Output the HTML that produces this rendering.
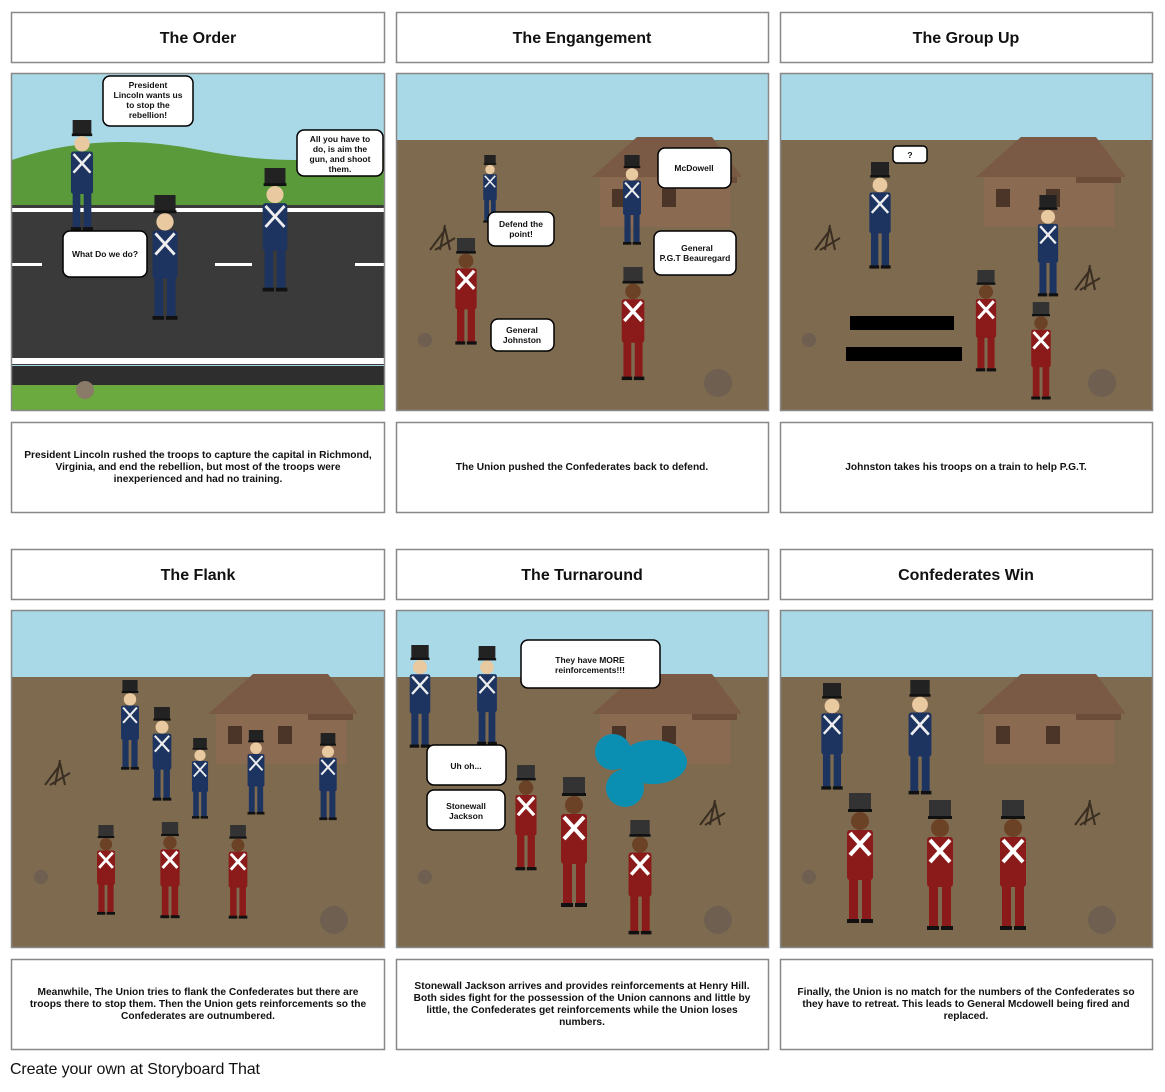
<!DOCTYPE html>
<html><head><meta charset="utf-8"><style>
body{margin:0;background:#fff}
svg text{font-family:"Liberation Sans",sans-serif;font-weight:bold}
</style></head><body>
<svg width="1165" height="1087" viewBox="0 0 1165 1087" xmlns="http://www.w3.org/2000/svg">
<defs>
<g id="sb">
 <rect x="-11" y="0" width="22" height="18" fill="#222"/><rect x="-12" y="16" width="24" height="3" fill="#111"/>
 <circle cx="0" cy="28" r="9" fill="#e8c9a0"/>
 <rect x="-13" y="37" width="26" height="50" rx="3" fill="#1d3461"/>
 <path d="M-10 40 L10 62 M10 40 L-10 62" stroke="#eee" stroke-width="3"/>
 <rect x="-11" y="85" width="9" height="43" fill="#1d3461"/><rect x="2" y="85" width="9" height="43" fill="#1d3461"/>
 <rect x="-13" y="126" width="12" height="4" fill="#111"/><rect x="1" y="126" width="12" height="4" fill="#111"/>
</g>
<g id="sr">
 <rect x="-11" y="0" width="22" height="18" fill="#333"/><rect x="-12" y="16" width="24" height="3" fill="#111"/>
 <circle cx="0" cy="28" r="9" fill="#6b4226"/>
 <rect x="-13" y="37" width="26" height="50" rx="3" fill="#8b1a1a"/>
 <path d="M-10 40 L10 62 M10 40 L-10 62" stroke="#fff" stroke-width="4"/>
 <rect x="-11" y="85" width="9" height="43" fill="#8b1a1a"/><rect x="2" y="85" width="9" height="43" fill="#8b1a1a"/>
 <rect x="-13" y="126" width="12" height="4" fill="#111"/><rect x="1" y="126" width="12" height="4" fill="#111"/>
</g>
<g id="house">
 <path d="M0 40 L45 0 L120 0 L150 40 Z" fill="#7a5a45"/>
 <rect x="8" y="40" width="130" height="50" fill="#8b6a52"/>
 <rect x="20" y="52" width="14" height="18" fill="#4a3528"/><rect x="70" y="52" width="14" height="18" fill="#4a3528"/>
 <rect x="100" y="40" width="45" height="6" fill="#6b4d3a"/>
</g>
</defs>
<g fill="#fff" stroke="#888" stroke-width="1.5">
<rect x="11.5" y="12.5" width="373" height="50"/><rect x="396.5" y="12.5" width="372" height="50"/><rect x="780.5" y="12.5" width="372" height="50"/>
<rect x="11.5" y="422.5" width="373" height="90"/><rect x="396.5" y="422.5" width="372" height="90"/><rect x="780.5" y="422.5" width="372" height="90"/>
<rect x="11.5" y="549.5" width="373" height="50"/><rect x="396.5" y="549.5" width="372" height="50"/><rect x="780.5" y="549.5" width="372" height="50"/>
<rect x="11.5" y="959.5" width="373" height="90"/><rect x="396.5" y="959.5" width="372" height="90"/><rect x="780.5" y="959.5" width="372" height="90"/>
</g>
<g font-size="16" text-anchor="middle" fill="#111">
<text x="198" y="43">The Order</text><text x="582" y="43">The Engangement</text><text x="966" y="43">The Group Up</text>
<text x="198" y="580">The Flank</text><text x="582" y="580">The Turnaround</text><text x="966" y="580">Confederates Win</text>
</g>
<rect x="12" y="74" width="372" height="336" fill="#a9d8e6"/>
<path d="M12 160 Q100 130 200 150 Q300 170 384 150 L384 210 L12 210Z" fill="#5a9a3a"/>
<rect x="12" y="205" width="372" height="160" fill="#3a3a3a"/>
<rect x="12" y="208" width="372" height="4" fill="#fff"/><rect x="12" y="358" width="372" height="6" fill="#fff"/>
<g fill="#fff"><rect x="12" y="263" width="30" height="3"/><rect x="215" y="263" width="37" height="3"/><rect x="355" y="263" width="29" height="3"/></g>
<rect x="12" y="366" width="372" height="20" fill="#2e2e2e"/><rect x="12" y="385" width="372" height="25" fill="#6aaa3e"/>
<circle cx="85" cy="390" r="9" fill="#8a7a68"/>
<use href="#sb" transform="translate(82,120) scale(0.85)"/>
<use href="#sb" transform="translate(165,195) scale(0.96)"/>
<use href="#sb" transform="translate(275,168) scale(0.95)"/>
<rect x="396" y="74" width="372" height="336" fill="#a9d8e6"/><rect x="396" y="140" width="372" height="270" fill="#7e6b4f"/>
<rect x="780" y="74" width="372" height="336" fill="#a9d8e6"/><rect x="780" y="140" width="372" height="270" fill="#7e6b4f"/>
<rect x="12" y="611" width="372" height="336" fill="#a9d8e6"/><rect x="12" y="677" width="372" height="270" fill="#7e6b4f"/>
<rect x="396" y="611" width="372" height="336" fill="#a9d8e6"/><rect x="396" y="677" width="372" height="270" fill="#7e6b4f"/>
<rect x="780" y="611" width="372" height="336" fill="#a9d8e6"/><rect x="780" y="677" width="372" height="270" fill="#7e6b4f"/>
<use href="#house" transform="translate(592,137)"/><use href="#house" transform="translate(976,137)"/>
<use href="#house" transform="translate(208,674)"/><use href="#house" transform="translate(592,674)"/><use href="#house" transform="translate(976,674)"/>
<g fill="#6e5f50"><circle cx="718" cy="383" r="14"/><circle cx="1102" cy="383" r="14"/><circle cx="334" cy="920" r="14"/><circle cx="718" cy="920" r="14"/><circle cx="1102" cy="920" r="14"/>
<circle cx="425" cy="340" r="7"/><circle cx="809" cy="340" r="7"/><circle cx="41" cy="877" r="7"/><circle cx="425" cy="877" r="7"/><circle cx="809" cy="877" r="7"/></g>
<g stroke="#3a2e22" stroke-width="2" fill="none">
<path d="M430 250 l15 -20 M440 250 l5 -25 M450 250 l-5 -22 M435 250 l20 -12"/>
<path d="M815 250 l15 -20 M825 250 l5 -25 M835 250 l-5 -22 M820 250 l20 -12"/>
<path d="M1075 290 l15 -20 M1085 290 l5 -25 M1095 290 l-5 -22 M1080 290 l20 -12"/>
<path d="M45 785 l15 -20 M55 785 l5 -25 M65 785 l-5 -22 M50 785 l20 -12"/>
<path d="M700 825 l15 -20 M710 825 l5 -25 M720 825 l-5 -22 M705 825 l20 -12"/>
<path d="M1075 825 l15 -20 M1085 825 l5 -25 M1095 825 l-5 -22 M1080 825 l20 -12"/>
</g>
<use href="#sb" transform="translate(490,155) scale(0.52)"/>
<use href="#sb" transform="translate(632,155) scale(0.69)"/>
<use href="#sr" transform="translate(466,238) scale(0.82)"/>
<use href="#sr" transform="translate(633,267) scale(0.87)"/>
<use href="#sb" transform="translate(880,162) scale(0.82)"/>
<use href="#sb" transform="translate(1048,195) scale(0.78)"/>
<use href="#sr" transform="translate(986,270) scale(0.78)"/>
<use href="#sr" transform="translate(1041,302) scale(0.75)"/>
<rect x="850" y="316" width="104" height="14" fill="#000"/><rect x="846" y="347" width="116" height="14" fill="#000"/>
<use href="#sb" transform="translate(130,680) scale(0.69)"/>
<use href="#sb" transform="translate(162,707) scale(0.72)"/>
<use href="#sb" transform="translate(200,738) scale(0.62)"/>
<use href="#sb" transform="translate(256,730) scale(0.65)"/>
<use href="#sb" transform="translate(328,733) scale(0.67)"/>
<use href="#sr" transform="translate(106,825) scale(0.69)"/>
<use href="#sr" transform="translate(170,822) scale(0.74)"/>
<use href="#sr" transform="translate(238,825) scale(0.72)"/>
<use href="#sb" transform="translate(420,645) scale(0.79)"/>
<use href="#sb" transform="translate(487,646) scale(0.76)"/>
<use href="#sr" transform="translate(526,765) scale(0.81)"/>
<use href="#sr" transform="translate(574,777) scale(1.0)"/>
<use href="#sr" transform="translate(640,820) scale(0.88)"/>
<g fill="#0a8fb2"><circle cx="613" cy="752" r="18"/><circle cx="625" cy="788" r="19"/><ellipse cx="653" cy="762" rx="34" ry="22"/></g>
<use href="#sb" transform="translate(832,683) scale(0.82)"/>
<use href="#sb" transform="translate(920,680) scale(0.88)"/>
<use href="#sr" transform="translate(860,793) scale(1.0)"/>
<use href="#sr" transform="translate(940,800) scale(1.0)"/>
<use href="#sr" transform="translate(1013,800) scale(1.0)"/>
<g fill="none" stroke="#888" stroke-width="1.5">
<rect x="11.5" y="73.5" width="373" height="337"/><rect x="396.5" y="73.5" width="372" height="337"/><rect x="780.5" y="73.5" width="372" height="337"/>
<rect x="11.5" y="610.5" width="373" height="337"/><rect x="396.5" y="610.5" width="372" height="337"/><rect x="780.5" y="610.5" width="372" height="337"/>
</g>
<g fill="#fff" stroke="#000" stroke-width="1.5">
<rect x="103" y="76" width="90" height="50" rx="7"/><rect x="297" y="130" width="86" height="46" rx="7"/>
<rect x="63" y="231" width="84" height="46" rx="7"/>
<rect x="658" y="148" width="73" height="40" rx="7"/><rect x="488" y="212" width="66" height="34" rx="7"/>
<rect x="654" y="231" width="82" height="44" rx="7"/><rect x="491" y="319" width="63" height="32" rx="7"/>
<rect x="893" y="146" width="34" height="17" rx="4"/>
<rect x="521" y="640" width="139" height="48" rx="7"/><rect x="427" y="745" width="79" height="40" rx="7"/><rect x="427" y="790" width="78" height="40" rx="7"/>
</g>
<g font-size="8.5" text-anchor="middle" fill="#111">
<text x="148" y="88">President</text><text x="148" y="98">Lincoln wants us</text><text x="148" y="108">to stop the</text><text x="148" y="118">rebellion!</text>
<text x="340" y="142">All you have to</text><text x="340" y="152">do, is aim the</text><text x="340" y="162">gun, and shoot</text><text x="340" y="172">them.</text>
<text x="105" y="257">What Do we do?</text>
<text x="694" y="171">McDowell</text>
<text x="521" y="227">Defend the</text><text x="521" y="237">point!</text>
<text x="697" y="251">General</text><text x="695" y="261">P.G.T Beauregard</text>
<text x="522" y="333">General</text><text x="522" y="343">Johnston</text>
<text x="910" y="158">?</text>
<text x="590" y="663">They have MORE</text><text x="590" y="673">reinforcements!!!</text>
<text x="466" y="769">Uh oh...</text>
<text x="466" y="809">Stonewall</text><text x="466" y="819">Jackson</text>
</g>
<g font-size="10.2" text-anchor="middle" fill="#111">
<text x="198" y="458">President Lincoln rushed the troops to capture the capital in Richmond,</text>
<text x="198" y="470">Virginia, and end the rebellion, but most of the troops were</text>
<text x="198" y="482">inexperienced and had no training.</text>
<text x="582" y="470">The Union pushed the Confederates back to defend.</text>
<text x="966" y="470">Johnston takes his troops on a train to help P.G.T.</text>
<text x="198" y="995">Meanwhile, The Union tries to flank the Confederates but there are</text>
<text x="198" y="1007">troops there to stop them. Then the Union gets reinforcements so the</text>
<text x="198" y="1019">Confederates are outnumbered.</text>
<text x="582" y="989">Stonewall Jackson arrives and provides reinforcements at Henry Hill.</text>
<text x="582" y="1001">Both sides fight for the possession of the Union cannons and little by</text>
<text x="582" y="1013">little, the Confederates get reinforcements while the Union loses</text>
<text x="582" y="1025">numbers.</text>
<text x="966" y="995">Finally, the Union is no match for the numbers of the Confederates so</text>
<text x="966" y="1007">they have to retreat. This leads to General Mcdowell being fired and</text>
<text x="966" y="1019">replaced.</text>
</g>
<text x="10" y="1074" font-size="16" style="font-weight:normal" fill="#111" textLength="250">Create your own at Storyboard That</text>
</svg>
</body></html>
